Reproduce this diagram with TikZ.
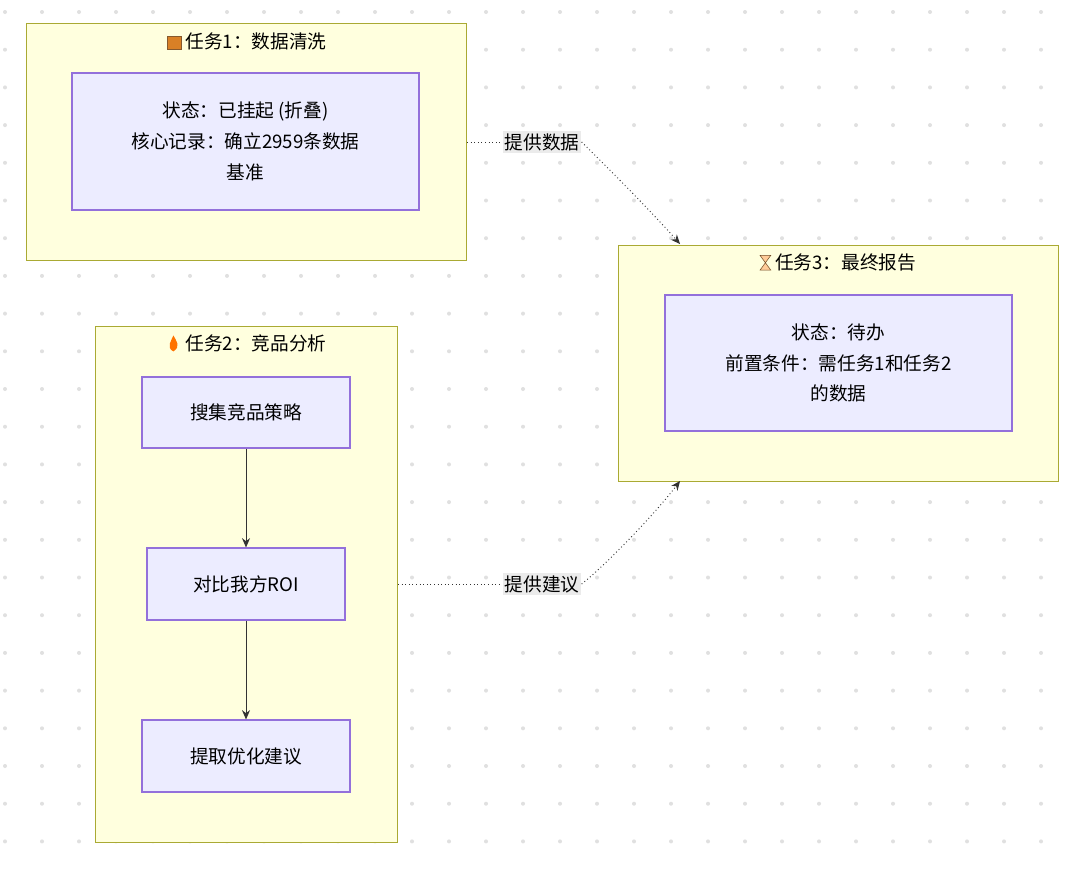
\documentclass[tikz,border=0pt]{standalone}
\usepackage{fontspec}
\setmainfont{Noto Sans CJK SC}
\usetikzlibrary{positioning, arrows.meta}
\definecolor{clusterfill}{HTML}{FFFFDE}
\definecolor{clusterline}{HTML}{AAAA33}
\definecolor{taskfill}{HTML}{ECECFF}
\definecolor{taskline}{HTML}{9370DB}
\definecolor{edgecol}{HTML}{333333}
\tikzset{
  cluster/.style={draw=clusterline, fill=clusterfill, line width=0.8pt, anchor=north west, inner sep=0pt},
  task/.style={draw=taskline, fill=taskfill, line width=0.8pt, align=center, font=\fontsize{14}{23}\selectfont},
  title/.style={font=\fontsize{14}{16}\selectfont},
  flow/.style={-{Stealth[length=7pt,width=6pt]}, draw=edgecol, line width=0.7pt},
  hint/.style={-{Stealth[length=7pt,width=6pt]}, draw=edgecol, line width=0.7pt, dotted},
  tag/.style={fill=black!8, inner sep=1.5pt, font=\fontsize{14}{16}\selectfont},
}
\begin{document}
\begin{tikzpicture}[x=0.75pt, y=-0.75pt]
\useasboundingbox (0,0) rectangle (1080,868);
\fill[white] (0,0) rectangle (1080,868);
% dotted background
\foreach \i in {0,...,28}
  \foreach \j in {0,...,23}
    \fill[black!12] (5+37*\i, 12+37.7*\j) circle (2);

% task 1
\node[cluster, minimum width=440*0.75pt, minimum height=237*0.75pt] (t1) at (26,23) {};
\node[title] (t1title) at (247,41) {\raisebox{-1pt}{\tikz\filldraw[draw=brown!70!black, fill=brown!60!orange] (0,0) rectangle (10pt,10pt);}\ 任务1：数据清洗};
\node[task, minimum width=347*0.75pt, minimum height=137*0.75pt] (clean) at (245.5,141.5) {状态：已挂起 (折叠)\\核心记录：确立2959条数据\\基准};

% task 2
\node[cluster, minimum width=302*0.75pt, minimum height=516*0.75pt] (t2) at (95,326) {};
\node[title] (t2title) at (246,343) {\raisebox{-1pt}{\tikz\fill[orange!90!red] (0,0) .. controls (-6pt,3pt) and (-1pt,9pt) .. (0,12pt) .. controls (2pt,8pt) and (6pt,4pt) .. (0,0);}\ 任务2：竞品分析};
\node[task, minimum width=208*0.75pt, minimum height=71*0.75pt] (collect) at (246,412.5) {搜集竞品策略};
\node[task, minimum width=198*0.75pt, minimum height=72*0.75pt] (compare) at (246,584) {对比我方ROI};
\node[task, minimum width=208*0.75pt, minimum height=72*0.75pt] (extract) at (246,756) {提取优化建议};

% task 3
\node[cluster, minimum width=440*0.75pt, minimum height=236*0.75pt] (t3) at (618,245) {};
\node[title] (t3title) at (838,262) {\raisebox{-1pt}{\tikz{\filldraw[draw=brown!60!black, fill=orange!40] (0,0) -- (8pt,0) -- (0,11pt) -- (8pt,11pt) -- cycle;}}\ 任务3：最终报告};
\node[task, minimum width=347*0.75pt, minimum height=136*0.75pt] (report) at (838.5,363) {状态：待办\\前置条件：需任务1和任务2\\的数据};

\draw[flow] (collect) -- (compare);
\draw[flow] (compare) -- (extract);

\node[tag] (give1) at (542,142) {提供数据};
\node[tag] (give2) at (542,584) {提供建议};
\coordinate (in1) at (680,244);
\coordinate (in2) at (680,481);
\draw[edgecol, line width=0.7pt, dotted] (t1.east |- give1) -- (give1.west);
\draw[hint] (give1.east) .. controls (600,160) and (650,210) .. (in1);
\draw[edgecol, line width=0.7pt, dotted] (t2.east |- give2) -- (give2.west);
\draw[hint] (give2.east) .. controls (600,570) and (650,520) .. (in2);
\end{tikzpicture}
\end{document}
